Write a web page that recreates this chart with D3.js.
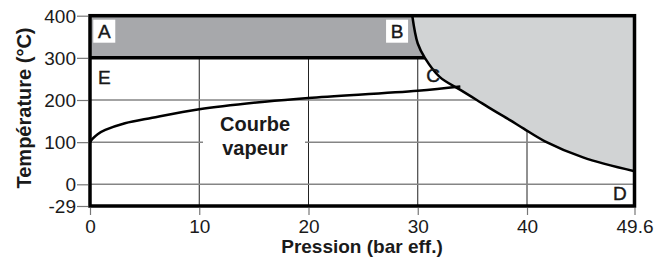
<!DOCTYPE html>
<html>
<head>
<meta charset="utf-8">
<script src="https://cdn.jsdelivr.net/npm/d3@7"></script>
<style>
  body { margin: 0; background: #fff; }
  text { font-family: Arial, "Liberation Sans", sans-serif; fill: #1a1a1a; }
</style>
</head>
<body>
<div id="chart"></div>
<script>
var xTicks = [0, 10, 20, 30, 40, 49.6];
var yTicks = [-29, 0, 100, 200, 300, 400];

// courbe vapeur : pression (bar eff.), temperature (°C)
var vapP = [0, 0.2, 0.7, 1.4, 3.2, 5.7, 10, 16, 20, 30, 33.9];
var vapT = [100, 107, 119, 129, 145, 158, 178, 196, 205, 222, 232];

// limite de la zone grise claire
var limP = [29.5, 30.0, 30.65, 32.0, 33.9, 35.4, 36.9, 38.4, 39.7, 41.6, 45.0, 49.6];
var limT = [400, 334, 300, 255, 224, 200, 176, 153, 132, 102, 64, 31];

var zoneLabels = ["A", "B", "C", "D", "E"];

var W = 662, H = 257;

var svg = d3.select("#chart")
  .append("svg")
  .attr("width", W)
  .attr("height", H);

var x = d3.scaleLinear()
    .domain([0, 40, 49.6])
    .range([90, 527, 634.5]);

var y = d3.scaleLinear()
    .domain([-29, 0, 400])
    .range([206, 184.3, 15.7]);

var vap = vapP.map(function(p, i) { return [p, vapT[i]]; });
var lim = limP.map(function(p, i) { return [p, limT[i]]; });

// grille
svg.append("g").selectAll("line")
  .data([10, 20, 30, 40])
  .enter().append("line")
    .attr("x1", function(d) { return x(d); })
    .attr("x2", function(d) { return x(d); })
    .attr("y1", y(300))
    .attr("y2", y(-29))
    .attr("stroke", "#222")
    .attr("stroke-width", 1);

svg.append("g").selectAll("line")
  .data([0, 100, 200])
  .enter().append("line")
    .attr("x1", x(0))
    .attr("x2", x(49.6))
    .attr("y1", function(d) { return y(d); })
    .attr("y2", function(d) { return y(d); })
    .attr("stroke", "#858585")
    .attr("stroke-width", 1.5);

// zone A-B (gris fonce)
svg.append("rect")
  .attr("x", x(0))
  .attr("y", y(400))
  .attr("width", x(31) - x(0))
  .attr("height", y(300) - y(400))
  .attr("fill", "#a7a8ab");

svg.append("line")
  .attr("x1", x(0)).attr("x2", x(31))
  .attr("y1", y(300)).attr("y2", y(300))
  .attr("stroke", "#000").attr("stroke-width", 3.5);

// zone grise claire
var limLine = d3.line()
  .x(function(d) { return x(d[0]); })
  .y(function(d) { return y(d[1]); })
  .curve(d3.curveCatmullRom.alpha(0.5));

svg.append("path")
  .attr("d", limLine(lim) + "L" + x(49.6) + "," + y(400) + "Z")
  .attr("fill", "#d1d3d4");

svg.append("path")
  .datum(lim)
  .attr("d", limLine)
  .attr("fill", "none")
  .attr("stroke", "#000")
  .attr("stroke-width", 2.5);

// courbe vapeur
svg.append("path")
  .datum(vap)
  .attr("d", d3.line()
    .x(function(d) { return x(d[0]); })
    .y(function(d) { return y(d[1]); })
    .curve(d3.curveCatmullRom.alpha(0.5)))
  .attr("fill", "none")
  .attr("stroke", "#000")
  .attr("stroke-width", 2.5);

// cadre
svg.append("rect")
  .attr("x", x(0))
  .attr("y", y(400))
  .attr("width", x(49.6) - x(0))
  .attr("height", y(-29) - y(400))
  .attr("fill", "none")
  .attr("stroke", "#000")
  .attr("stroke-width", 3.5);

// axes
var xAxis = svg.append("g")
  .attr("transform", "translate(0," + (y(-29) + 2) + ")")
  .call(d3.axisBottom(x).tickValues(xTicks).tickSize(7).tickFormat(function(d) { return d; }));

var yAxis = svg.append("g")
  .attr("transform", "translate(" + (x(0) - 2) + ",0)")
  .call(d3.axisLeft(y).tickValues(yTicks).tickSize(11).tickFormat(function(d) { return d; }));

[xAxis, yAxis].forEach(function(a) {
  a.select(".domain").remove();
  a.selectAll(".tick line").attr("stroke", "#777").attr("stroke-width", 1.2);
  a.selectAll(".tick text")
    .attr("font-family", "Arial, 'Liberation Sans', sans-serif")
    .attr("font-size", "19px")
    .attr("fill", "#1a1a1a");
});
xAxis.selectAll(".tick text").attr("dy", null).attr("y", 25);
yAxis.selectAll(".tick text").attr("x", -12).attr("dy", "0.35em");

// titres
svg.append("text")
  .attr("x", 362)
  .attr("y", 253)
  .attr("text-anchor", "middle")
  .attr("font-size", "19px")
  .attr("font-weight", "bold")
  .text("Pression (bar eff.)");

svg.append("text")
  .attr("transform", "translate(31,108) rotate(-90)")
  .attr("text-anchor", "middle")
  .attr("font-size", "20px")
  .attr("font-weight", "bold")
  .text("Température (°C)");

// Courbe vapeur
svg.append("rect")
  .attr("x", 203).attr("y", 136)
  .attr("width", 102).attr("height", 10)
  .attr("fill", "#fff");

svg.append("text")
  .attr("x", 255).attr("y", 131)
  .attr("text-anchor", "middle")
  .attr("font-size", "20px")
  .attr("font-weight", "bold")
  .text("Courbe");
svg.append("text")
  .attr("x", 255).attr("y", 155)
  .attr("text-anchor", "middle")
  .attr("font-size", "20px")
  .attr("font-weight", "bold")
  .text("vapeur");

// lettres des zones
var labPos = {
  A: [0.3, 400, 22, true],
  B: [27.1, 400, 22, true],
  C: [30.4, 300, 24, false],
  D: [47.3, -29, -6, false],
  E: [0.3, 300, 26, false]
};

zoneLabels.forEach(function(k) {
  var p = labPos[k];
  if (p[3]) {
    svg.append("rect")
      .attr("x", x(p[0])).attr("y", y(p[1]) + 4)
      .attr("width", 22).attr("height", 23)
      .attr("fill", "#fff");
  }
  svg.append("text")
    .attr("x", x(p[0]) + 11)
    .attr("y", y(p[1]) + p[2])
    .attr("text-anchor", "middle")
    .attr("font-size", "19px")
    .attr("stroke", "#111")
    .attr("stroke-width", 0.4)
    .attr("fill", k == "C" ? "#15153a" : "#111")
    .text(k);
});
</script>
</body>
</html>
